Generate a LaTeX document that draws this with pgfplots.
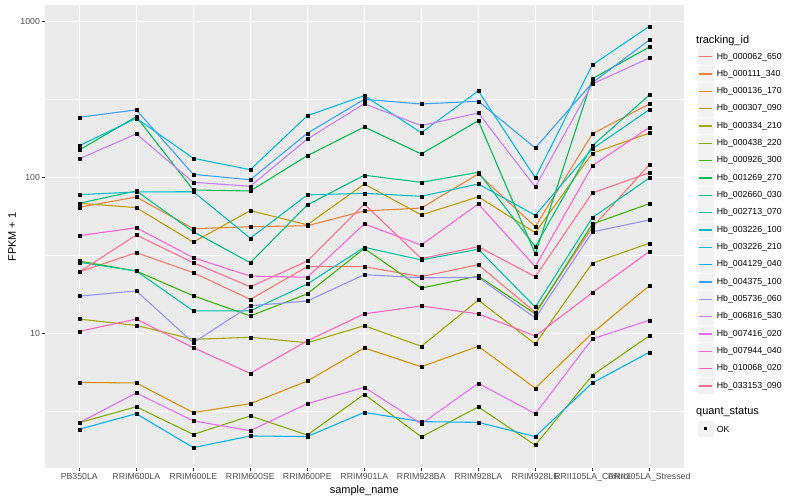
\documentclass[border=0pt]{standalone}
\usepackage{fontspec}
\setmainfont{Liberation Sans}
\usepackage{pgfplots}
\usepackage{pgfplotstable}
\pgfplotsset{compat=1.18}

\definecolor{ggbg}{HTML}{EBEBEB}
\definecolor{ggkey}{HTML}{F2F2F2}
\definecolor{ggtick}{HTML}{333333}
\definecolor{gglab}{HTML}{4D4D4D}
\definecolor{c1}{HTML}{F8766D}
\definecolor{c2}{HTML}{EA8331}
\definecolor{c3}{HTML}{D89000}
\definecolor{c4}{HTML}{C09B00}
\definecolor{c5}{HTML}{A3A500}
\definecolor{c6}{HTML}{7CAE00}
\definecolor{c7}{HTML}{39B600}
\definecolor{c8}{HTML}{00BB4E}
\definecolor{c9}{HTML}{00BF7D}
\definecolor{c10}{HTML}{00C1A3}
\definecolor{c11}{HTML}{00BFC4}
\definecolor{c12}{HTML}{00BAE0}
\definecolor{c13}{HTML}{00B0F6}
\definecolor{c14}{HTML}{35A2FF}
\definecolor{c15}{HTML}{9590FF}
\definecolor{c16}{HTML}{C77CFF}
\definecolor{c17}{HTML}{E76BF3}
\definecolor{c18}{HTML}{FA62DB}
\definecolor{c19}{HTML}{FF62BC}
\definecolor{c20}{HTML}{FF6C91}

% FPKM + 1 per sample (rows) and gene (columns s1..s20, legend order)
\pgfplotstableread{
idx s1   s2    s3    s4    s5    s6   s7   s8    s9    s10  s11  s12   s13  s14   s15  s16   s17  s18  s19   s20
0   24.9 64.6  4.87  68.6  12.4  2.69 29.2 150.6 68.6  28.7 77.8 160.3 2.44 244   17.4 132   2.69 42.5 10.35 24.9
1   33.1 75.2  4.83  64.3  11.3  3.40 25.2 246   82.2  25.2 81.0 240.4 3.07 272   18.8 191   4.17 47.8 12.4  42.9
2   24.6 47.1  3.12  38.6  9.2   2.26 17.5 83.4  45.1  14.0 81.3 133.2 1.86 105   8.76 93.4  2.76 30.7 8.13  28.5
3   16.6 48.5  3.56  61.5  9.48  2.97 13.0 82.2  28.5  14.0 40.9 112.5 2.21 97    15.1 88.1  2.39 23.4 5.57  20.0
4   26.9 49.2  4.97  49.9  8.75  2.24 18.0 138.4 66.9  20.8 77.6 249.6 2.19 192.6 16.2 177   3.56 23.0 9.0   29.2
5   26.9 61.2  8.1   91.1  11.25 4.09 35.2 211.4 103.7 35.8 79.4 335.6 3.13 318   23.9 298   4.53 50.5 13.4  67.8
6   23.2 63.9  6.14  57.7  8.3   2.18 19.6 141.9 93.4  29.7 76.0 194.3 2.73 296.8 22.8 215.5 2.64 37.0 15.05 30.3
7   27.7 105.6 8.3   75.5  16.4  3.39 23.4 232   108.3 34.8 91.1 360   2.70 309   23.0 260   4.81 67.8 13.4  36.1
8   13.7 48.5  4.47  44.4  8.59  1.93 13.4 32.4  36.1  14.8 57.4 100   2.19 155   12.6 87.2  3.07 26.9 9.66  23.2
9   48   191   10.1  143.5 28.3  5.41 50.5 431   160   55.4 153  528   4.83 406   44.9 399   9.25 119  18.3  79.8
10  121  297   20.3  193   38.0  9.7  68.1 688   339   99.5 273  934   7.6  763   53.6 585   12.2 210  33.6  107.6
}\fpkm

\begin{document}
\begin{tikzpicture}
\useasboundingbox (0,0) rectangle (800bp,500bp);
\begin{axis}[
    at={(45.1bp,31.7bp)}, anchor=south west,
    width=638.4bp, height=462.8bp, scale only axis,
    ymode=log, ymin=1.371, ymax=1270,
    xmin=-0.6, xmax=10.6,
    xtick={0,...,10},
    xticklabels={PB350LA,RRIM600LA,RRIM600LE,RRIM600SE,RRIM600PE,RRIM901LA,RRIM928BA,RRIM928LA,RRIM928LE,RRII105LA\_Control,RRII105LA\_Stressed},
    ytick={10,100,1000}, yticklabels={10,100,1000},
    minor ytick={3.1623,31.623,316.23},
    grid=both,
    major grid style={white, line width=1.07bp},
    minor grid style={white, line width=0.53bp},
    axis background/.style={fill=ggbg},
    axis line style={draw=none},
    tick pos=left, tick align=outside,
    major tick length=2.75bp, minor tick length=0pt,
    tick style={color=ggtick, line width=0.53bp},
    ticklabel style={font=\fontsize{8.8}{10}\selectfont, text=gglab, inner sep=0pt},
    xticklabel style={yshift=-2.2bp},
    yticklabel style={xshift=-2.2bp},
    /pgf/number format/assume math mode=true,
]
\pgfplotsinvokeforeach{1,...,20}{
  \addplot[color=c#1, line width=1.07bp, mark=none] table[x=idx, y=s#1] {\fpkm};
}
\pgfplotsinvokeforeach{1,...,20}{
  \addplot[only marks, mark=square*, mark size=1.5bp, black] table[x=idx, y=s#1] {\fpkm};
}
\end{axis}

% axis titles
\node[font=\fontsize{11}{13}\selectfont] at (364.3bp,9bp) {sample\_name};
\node[font=\fontsize{11}{13}\selectfont, rotate=90] at (12bp,263bp) {FPKM + 1};

% legend: tracking_id
\node[anchor=west, inner sep=0pt, font=\fontsize{11}{13}\selectfont] at (696bp,459.3bp) {tracking\_id};
\foreach \n [count=\i] in {Hb\_000062\_650,Hb\_000111\_340,Hb\_000136\_170,Hb\_000307\_090,Hb\_000334\_210,Hb\_000438\_220,Hb\_000926\_300,Hb\_001269\_270,Hb\_002660\_030,Hb\_002713\_070,Hb\_003226\_100,Hb\_003226\_210,Hb\_004129\_040,Hb\_004375\_100,Hb\_005736\_060,Hb\_006816\_530,Hb\_007416\_020,Hb\_007944\_040,Hb\_010068\_020,Hb\_033153\_090}{
  \pgfmathsetmacro\yy{443.3-17.33*(\i-1)}
  \pgfmathsetmacro\ylo{\yy-8.3}
  \pgfmathsetmacro\yhi{\yy+8.3}
  \fill[ggkey] (697.5bp,\ylo bp) rectangle (713.8bp,\yhi bp);
  \draw[c\i, line width=1.4bp] (698.9bp,\yy bp) -- (712.4bp,\yy bp);
  \node[anchor=west, inner sep=0pt, font=\fontsize{8.8}{10}\selectfont] at (716.7bp,\yy bp) {\n};
}

% legend: quant_status
\node[anchor=west, inner sep=0pt, font=\fontsize{11}{13}\selectfont] at (696bp,87.7bp) {quant\_status};
\fill[ggkey] (697.5bp,62.7bp) rectangle (713.8bp,79.3bp);
\fill[black] (704.15bp,69.5bp) rectangle (707.15bp,72.5bp);
\node[anchor=west, inner sep=0pt, font=\fontsize{8.8}{10}\selectfont] at (716.7bp,71bp) {OK};
\end{tikzpicture}
\end{document}
